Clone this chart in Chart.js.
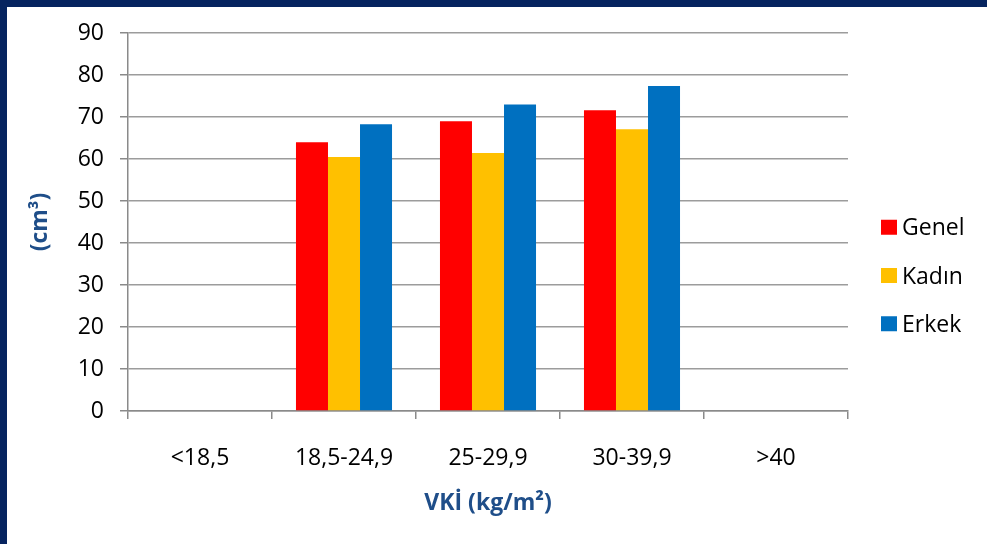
<!DOCTYPE html>
<html>
<head>
<meta charset="utf-8">
<script src="https://cdn.jsdelivr.net/npm/chart.js@4.4.1/dist/chart.umd.min.js"></script>
<style>
  html, body { margin: 0; padding: 0; background: #fff; overflow: hidden; }
  #chart { display: block; }
</style>
</head>
<body>
<canvas id="chart" width="989" height="544"></canvas>
<script>
// BMI groups on the x axis
const categories = ['<18,5', '18,5-24,9', '25-29,9', '30-39,9', '>40'];

// Series values (cm³) per BMI group
const genel = [null, 64.0, 69.0, 71.6, null];
const kadin = [null, 60.5, 61.4, 67.1, null];
const erkek = [null, 68.3, 73.0, 77.4, null];

const seriesNames = ['Genel', 'Kadın', 'Erkek'];

// Value axis ticks
const yMin = 0;
const yMax = 90;
const yStep = 10;

const axisTitleX = 'VKİ (kg/m²)';
const axisTitleY = '(cm³)';

const colors = ['#FF0000', '#FFC000', '#0070C0'];
const frameColor = '#06245F';
const frameWidth = 7;
const titleColor = '#1F4E89';
const gridColor = '#9c9c9c';
const axisColor = '#8a8a8a';
const fontFamily = "'Open Sans', 'Noto Sans', sans-serif";

// Dark frame along the top and left edges
const frame = {
  id: 'frame',
  beforeDraw(chart) {
    const ctx = chart.ctx;
    ctx.save();
    ctx.fillStyle = '#fff';
    ctx.fillRect(0, 0, chart.width, chart.height);
    ctx.fillStyle = frameColor;
    ctx.fillRect(0, 0, chart.width - 2, frameWidth);
    ctx.fillRect(0, 0, frameWidth, chart.height);
    ctx.restore();
  }
};

// Legend drawn to the right of the plot, stacked and vertically centred
const sideLegend = {
  id: 'sideLegend',
  afterDraw(chart) {
    const ctx = chart.ctx;
    const x0 = chart.chartArea.right + 33;
    const step = 48.25;
    const mid = (chart.height + frameWidth) / 2;
    const n = chart.data.datasets.length;
    ctx.save();
    ctx.font = '23px ' + fontFamily;
    ctx.textAlign = 'left';
    ctx.textBaseline = 'alphabetic';
    chart.data.datasets.forEach((ds, i) => {
      const yc = mid + (i - (n - 1) / 2) * step;
      ctx.fillStyle = ds.backgroundColor;
      ctx.fillRect(x0, yc - 7.5, 16, 15);
      ctx.fillStyle = '#000';
      ctx.fillText(ds.label, x0 + 21, yc + 8.2);
    });
    ctx.restore();
  }
};

new Chart(document.getElementById('chart'), {
  type: 'bar',
  data: {
    labels: categories,
    datasets: [
      { label: seriesNames[0], data: genel, backgroundColor: colors[0] },
      { label: seriesNames[1], data: kadin, backgroundColor: colors[1] },
      { label: seriesNames[2], data: erkek, backgroundColor: colors[2] }
    ]
  },
  options: {
    responsive: false,
    animation: false,
    events: [],
    layout: { padding: { left: 7, right: 141, top: 33, bottom: 0 } },
    datasets: {
      bar: { categoryPercentage: 0.667, barPercentage: 1.0, borderWidth: 0 }
    },
    plugins: {
      legend: { display: false },
      tooltip: { enabled: false }
    },
    scales: {
      x: {
        type: 'category',
        offset: true,
        grid: {
          offset: true,
          drawOnChartArea: false,
          drawTicks: true,
          tickLength: 8,
          tickColor: axisColor,
          lineWidth: 1.5
        },
        border: { color: axisColor, width: 1.5 },
        ticks: {
          color: '#000',
          padding: 26,
          maxRotation: 0,
          autoSkip: false,
          font: { family: fontFamily, size: 23 }
        },
        title: {
          display: true,
          text: axisTitleX,
          color: titleColor,
          font: { family: fontFamily, size: 23, weight: 'bold' },
          padding: { top: 0, bottom: 27 }
        },
        afterFit(scale) { scale.height = 133; }
      },
      y: {
        min: yMin,
        max: yMax,
        grid: {
          color: gridColor,
          lineWidth: 1.5,
          tickLength: 8,
          tickColor: axisColor
        },
        border: { color: axisColor, width: 1.5 },
        ticks: {
          stepSize: yStep,
          color: '#000',
          padding: 16,
          font: { family: fontFamily, size: 23 }
        },
        title: {
          display: true,
          text: axisTitleY,
          color: titleColor,
          font: { family: fontFamily, size: 23, weight: 'bold' },
          padding: { top: 20, bottom: 0 }
        },
        afterFit(scale) { scale.width = 121; }
      }
    }
  },
  plugins: [frame, sideLegend]
});
</script>
</body>
</html>
